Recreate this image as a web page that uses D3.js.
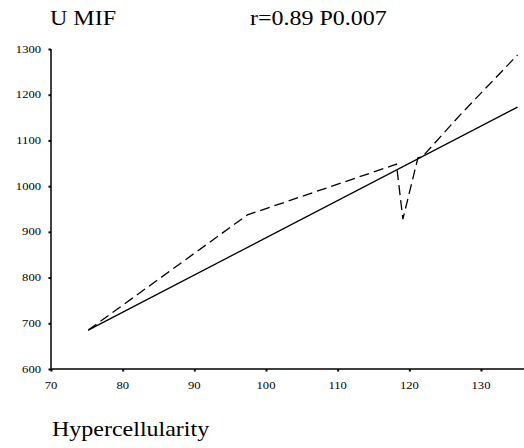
<!DOCTYPE html>
<html>
<head>
<meta charset="utf-8">
<script src="https://cdn.jsdelivr.net/npm/d3@7"></script>
<style>
  html, body { margin: 0; padding: 0; background: #fff; }
  svg { display: block; }
</style>
</head>
<body>
<svg id="chart" width="524" height="448"></svg>
<script>
// Hypercellularity vs U MIF: observed curve and fitted regression line
const xTicks = [70, 80, 90, 100, 110, 120, 130];
const yTicks = [600, 700, 800, 900, 1000, 1100, 1200, 1300];

const observedX = [75.2, 97.4, 118.2, 119.1, 121.2, 121.8, 127.1, 135.1];
const observedY = [685, 937, 1048, 928, 1062, 1064, 1156, 1287];

const fitX = [75.2, 135.1];
const fitY = [685, 1173];

const titleLeft = "U MIF";
const titleRight = "r=0.89 P0.007";
const xLabel = "Hypercellularity";

const FONT = "'Liberation Serif', Tinos, 'Times New Roman', Times, serif";

const svg = d3.select("#chart");
const stretch = 1.2;

const x = d3.scaleLinear().domain([70, 136]).range([51, 524]);
const y = d3.scaleLinear().domain([600, 1300]).range([369, 49]);

// horizontally stretched serif text
function label(sel, txt, px, py, size, anchor) {
  return sel.append("text")
    .attr("transform", `translate(${px},${py}) scale(${stretch},1)`)
    .style("font-family", FONT)
    .attr("font-size", size)
    .attr("fill", "#000")
    .attr("text-anchor", anchor || "start")
    .text(txt);
}

// axes
const xAxis = svg.append("g").attr("transform", `translate(0,${y(600)})`)
  .call(d3.axisBottom(x).tickValues(xTicks).tickSize(2.5).tickFormat(""));
const yAxis = svg.append("g").attr("transform", `translate(${x(70)},0)`)
  .call(d3.axisLeft(y).tickValues(yTicks).tickSize(2.5).tickFormat(""));
[xAxis, yAxis].forEach(g => {
  g.select(".domain").remove();
  g.selectAll(".tick line").attr("stroke", "#000").attr("stroke-width", 2);
});
svg.append("line")
  .attr("x1", x(70)).attr("x2", x(136))
  .attr("y1", y(600)).attr("y2", y(600))
  .attr("stroke", "#000").attr("stroke-width", 1.5);
svg.append("line")
  .attr("x1", x(70)).attr("x2", x(70))
  .attr("y1", y(600)).attr("y2", y(1300))
  .attr("stroke", "#000").attr("stroke-width", 1.5);

// tick labels
xTicks.forEach(v => label(svg, String(v), x(v), 389, 10.5, "middle"));
yTicks.forEach(v => label(svg, String(v), 41, y(v) + 3.5, 10.5, "end"));

// lines
const line = d3.line().x(d => x(d[0])).y(d => y(d[1]));
svg.append("path")
  .datum(fitX.map((v, i) => [v, fitY[i]]))
  .attr("d", line)
  .attr("fill", "none").attr("stroke", "#000").attr("stroke-width", 1.3);
svg.append("path")
  .datum(observedX.map((v, i) => [v, observedY[i]]))
  .attr("d", line)
  .attr("fill", "none").attr("stroke", "#000").attr("stroke-width", 1.3)
  .attr("stroke-dasharray", "10,5");

// titles
label(svg, titleLeft, 50, 25, 20);
label(svg, titleRight, 250, 25, 20);
label(svg, xLabel, 52, 436, 20);
</script>
</body>
</html>
